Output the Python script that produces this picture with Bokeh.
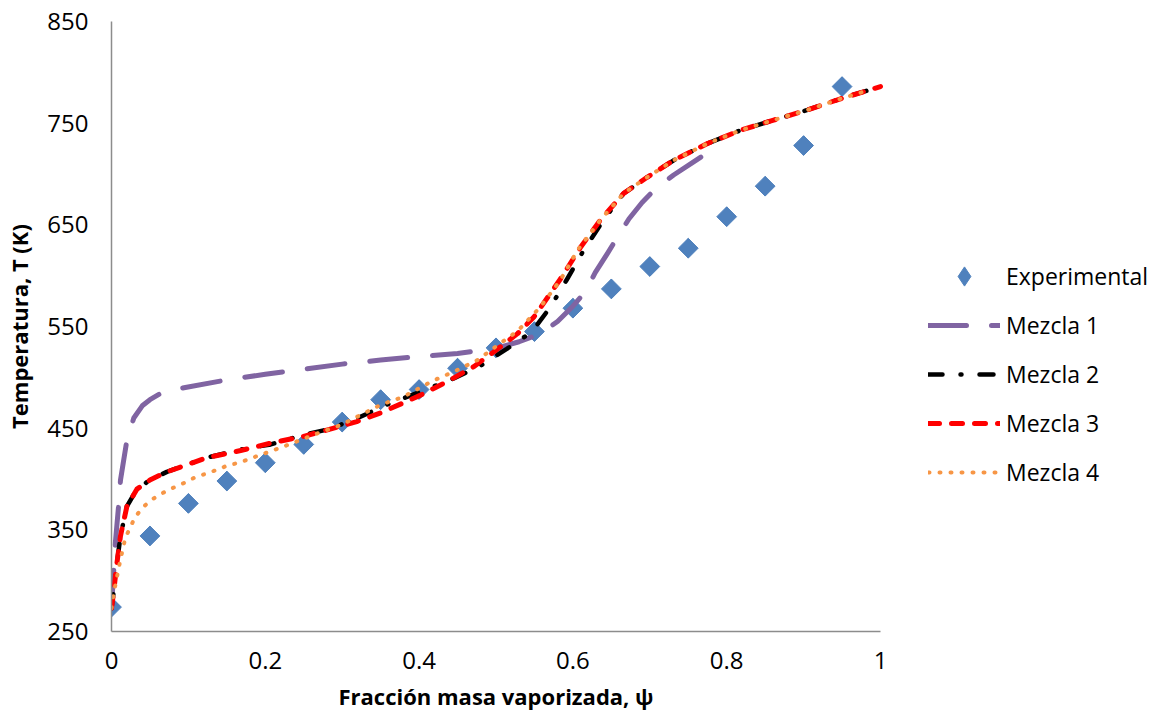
import math
from bokeh.plotting import figure
from bokeh.models import Range1d, Legend, LegendItem, FixedTicker, Title
from bokeh.embed import file_html
from bokeh.resources import INLINE

# ---------------- data ----------------
x_exp = [0, 0.05, 0.1, 0.15, 0.2, 0.25, 0.3, 0.35, 0.4, 0.45, 0.5,
         0.55, 0.6, 0.65, 0.7, 0.75, 0.8, 0.85, 0.9, 0.95]
t_exp = [274, 344, 376, 398, 416, 434, 456, 478, 488, 509, 529,
         545, 568, 587, 609, 627, 658, 688, 728, 786]

x_m1 = [0, 0.003, 0.005, 0.0095, 0.0117, 0.02, 0.029, 0.04, 0.05, 0.068, 0.096,
        0.15, 0.2, 0.25, 0.3, 0.35, 0.4, 0.45, 0.5, 0.53, 0.558, 0.58, 0.6,
        0.616, 0.629, 0.645, 0.658, 0.673, 0.69, 0.708, 0.731, 0.755, 0.777]
t_m1 = [273, 311, 337, 376, 399, 438, 460, 472, 478, 486, 490,
        497.5, 503, 508, 513, 517, 520.5, 523.5, 528.5, 535, 543, 555, 570,
        584, 603, 622, 638, 656, 672, 686, 699, 711, 722]

x_m2 = [0, 0.003, 0.0065, 0.0117, 0.02, 0.033, 0.05, 0.072, 0.098, 0.124, 0.168,
        0.207, 0.248, 0.285, 0.32, 0.361, 0.402, 0.445, 0.478, 0.514, 0.547,
        0.571, 0.592, 0.614, 0.64, 0.666, 0.697, 0.731, 0.775, 0.818, 0.861,
        0.905, 0.948, 0.987]
t_m2 = [273, 290, 314, 344, 373, 390, 399, 407, 414, 421, 429,
        434, 443, 449.5, 460, 474, 486, 499, 510.5, 528, 545,
        569.5, 596, 625, 655, 681, 697, 713.5, 730, 743, 753,
        763, 774, 783]

x_m3 = [0, 0.003, 0.0065, 0.0117, 0.02, 0.033, 0.05, 0.072, 0.098, 0.124, 0.168,
        0.211, 0.25, 0.289, 0.319, 0.35, 0.402, 0.437, 0.471, 0.497, 0.528,
        0.549, 0.562, 0.584, 0.61, 0.636, 0.666, 0.697, 0.731, 0.775, 0.818,
        0.861, 0.905, 0.948, 1.0]
t_m3 = [273, 290, 314, 344, 373, 390, 399, 407, 414, 421, 428,
        436, 442, 450, 456.5, 465, 482.5, 496, 510.5, 525, 543,
        559, 573, 597, 628, 655, 681, 697, 713.5, 730, 743,
        753, 763, 774, 786]

x_m4 = [0, 0.003, 0.0117, 0.018, 0.025, 0.031, 0.042, 0.053, 0.066, 0.079, 0.094,
        0.107, 0.122, 0.137, 0.15, 0.168, 0.18, 0.224, 0.268, 0.298, 0.324,
        0.35, 0.38, 0.419, 0.445, 0.476, 0.501, 0.528, 0.558, 0.584, 0.606,
        0.636, 0.666, 0.697, 0.731, 0.775, 0.818, 0.861, 0.905, 0.948, 0.987]
t_m4 = [273, 288, 321, 342, 353.5, 363, 373, 380, 386, 391, 396,
        401, 405, 409, 413, 416.5, 420, 432, 445, 453, 463,
        473, 481, 497, 505.5, 517, 531, 545.5, 569.5, 596, 625,
        655, 681, 697, 713.5, 730, 743, 753, 763, 774, 783]

x_ticks = [0, 0.2, 0.4, 0.6, 0.8, 1]
x_tick_labels = ["0", "0.2", "0.4", "0.6", "0.8", "1"]
y_ticks = [250, 350, 450, 550, 650, 750, 850]

labels = ["Experimental", "Mezcla 1", "Mezcla 2", "Mezcla 3", "Mezcla 4"]
x_title = "Fracción masa vaporizada, ψ"
y_title = "Temperatura, T (K)"

# ---------------- figure ----------------
FONT = "Open Sans"
X_MAX_VIEW = 1 + 278 / 769   # room on the right of the axis for the legend
p = figure(width=1158, height=717, output_backend="svg", toolbar_location=None,
           x_range=Range1d(0, X_MAX_VIEW), y_range=Range1d(250, 850),
           min_border_left=111, min_border_right=0,
           min_border_top=21, min_border_bottom=85)
p.outline_line_color = None
p.xgrid.visible = False
p.ygrid.visible = False
p.background_fill_color = "white"
p.border_fill_color = "white"

# diamond renderer (supplies the legend symbol); covered by the rotated squares
r_exp_leg = p.scatter(x_exp, t_exp, marker="diamond", size=19,
                      fill_color="#4F81BD", line_color="#4F81BD")
r_exp = p.scatter(x_exp, t_exp, marker="square", size=14, angle=math.pi / 4,
                  fill_color="#4F81BD", line_color="#4F81BD", line_width=1)
r1 = p.line(x_m1, t_m1, line_color="#8064A2", line_width=5, line_dash="38 25",
            line_cap="round", line_join="round")
r2 = p.line(x_m2, t_m2, line_color="black", line_width=4.5, line_dash="14 18 1 18",
            line_cap="round", line_join="round")
r3 = p.line(x_m3, t_m3, line_color="#FF0000", line_width=5, line_dash="11 12",
            line_cap="round", line_join="round")
r4 = p.line(x_m4, t_m4, line_color="#F79646", line_width=4, line_dash="1 10",
            line_cap="round", line_join="round")

for ax in (p.xaxis[0], p.yaxis[0]):
    ax.axis_line_color = "#8C8C8C"
    ax.axis_line_width = 1.5
    ax.major_tick_line_color = None
    ax.minor_tick_line_color = None
    ax.major_tick_out = 0
    ax.major_tick_in = 0
    ax.major_label_text_font = FONT
    ax.major_label_text_font_size = "24px"
    ax.major_label_text_color = "black"
    ax.axis_label_text_font = FONT
    ax.axis_label_text_font_size = "22px"
    ax.axis_label_text_font_style = "bold"
    ax.axis_label_text_color = "black"

p.xaxis.bounds = (0, 1)
p.xaxis.ticker = FixedTicker(ticks=x_ticks)
p.xaxis.major_label_overrides = {t: l for t, l in zip(x_ticks, x_tick_labels)}
p.yaxis.ticker = FixedTicker(ticks=y_ticks)
p.yaxis.axis_label = y_title
p.xaxis.major_label_standoff = 20
p.yaxis.major_label_standoff = 23
p.yaxis.axis_label_standoff = 10

# x-axis title, centred under the 0..1 part of the axis
p.add_layout(Title(text=x_title, align="left", offset=227, standoff=14,
                   text_line_height=0.6,
                   text_font=FONT, text_font_size="22px",
                   text_font_style="bold", text_color="black"), "below")

legend = Legend(items=[LegendItem(label=lab, renderers=[r])
                       for lab, r in zip(labels, [r_exp_leg, r1, r2, r3, r4])],
                location=(817, 135), orientation="vertical",
                glyph_width=72, glyph_height=48, label_standoff=6,
                spacing=1, padding=0, margin=0,
                label_text_font=FONT, label_text_font_size="23px",
                label_text_color="black",
                border_line_color=None, background_fill_alpha=0)
p.add_layout(legend, "center")

open("out.html", "w").write(file_html(p, INLINE))
